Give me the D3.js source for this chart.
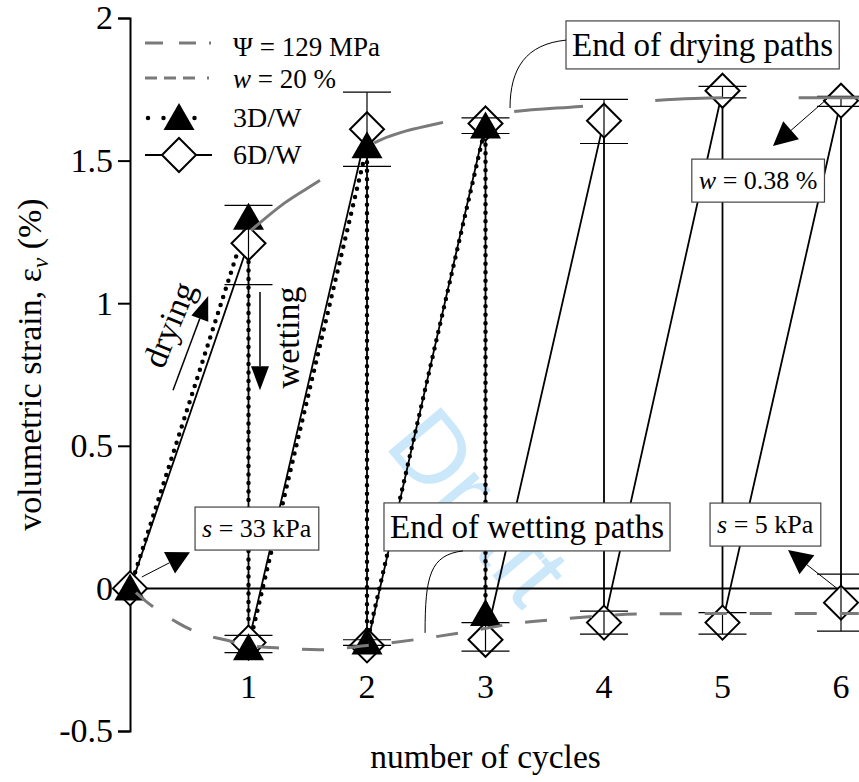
<!DOCTYPE html>
<html><head><meta charset="utf-8">
<script src="https://cdn.jsdelivr.net/npm/d3@7"></script>
<style>
html,body{margin:0;padding:0;background:#fff;}
svg{display:block;font-family:"Liberation Serif","Times New Roman",serif;}
</style></head><body>
<svg id="chart" width="859" height="782"></svg>
<script>
// ---------------- data ----------------
const yTickValues = [-0.5, 0, 0.5, 1, 1.5, 2];
const yTickLabels = ["-0.5", "0", "0.5", "1", "1.5", "2"];
const xTickValues = [1, 2, 3, 4, 5, 6];
const xTickLabels = ["1", "2", "3", "4", "5", "6"];

const cycles3DW = [0, 1, 1, 2, 2, 3, 3];
const strain3DW = [0, 1.30, -0.21, 1.55, -0.19, 1.62, -0.09];

const cycles6DW = [0, 1, 1, 2, 2, 3, 3, 4, 4, 5, 5, 6, 6];
const strain6DW = [0, 1.21, -0.19, 1.61, -0.20, 1.63, -0.18, 1.64, -0.12, 1.745, -0.12, 1.71, -0.05];

const errCycles = [1, 1, 2, 2, 3, 3, 4, 4, 5, 5, 6, 6];
const errLow  = [1.065, -0.225, 1.48, -0.20, 1.595, -0.22, 1.56, -0.16, 1.72, -0.16, 1.69, -0.15];
const errHigh = [1.343, -0.165, 1.74, -0.18, 1.65, -0.12, 1.715, -0.08, 1.76, -0.085, 1.725, 0.05];

// fitted trend curves (end of drying / end of wetting paths)
const dryEndCycles = [1.02, 1.3, 1.6, 2.05, 2.6, 3.2, 3.8, 4.4, 5.0, 5.6, 6.15];
const dryEndStrain = [1.255, 1.35, 1.43, 1.56, 1.63, 1.67, 1.69, 1.71, 1.72, 1.72, 1.72];
const wetEndCycles = [0.05, 0.12, 0.4, 0.6, 0.8, 1.0, 1.3, 1.6, 2.0, 2.4, 2.8, 3.2, 3.7, 4.3, 5.0, 6.15];
const wetEndStrain = [-0.015, -0.04, -0.12, -0.16, -0.18, -0.20, -0.21, -0.215, -0.20, -0.18, -0.155, -0.126, -0.105, -0.09, -0.088, -0.088];

const seriesNames = ["3D/W", "6D/W"];
const curveNames = ["Ψ = 129 MPa", "w = 20 %"];
const xAxisTitle = "number of cycles";

// ---------------- layout ----------------
const svg = d3.select("#chart");
const x = d3.scaleLinear().domain([0, 6]).range([130, 841]);
const y = d3.scaleLinear().domain([-0.5, 2]).range([731, 18]);
const serif = '"Liberation Serif","Times New Roman",serif';

// watermark
svg.append("text")
  .attr("transform", `translate(${x(2.95)},${y(0.29)}) rotate(50)`)
  .attr("text-anchor", "middle").attr("dominant-baseline", "central")
  .attr("font-family", '"Liberation Sans",Arial,sans-serif')
  .attr("font-size", 100).attr("fill", "#cbe8fb").text("Draft");

// zero line
svg.append("line")
  .attr("x1", x(0)).attr("x2", 859).attr("y1", y(0)).attr("y2", y(0))
  .attr("stroke", "#000").attr("stroke-width", 2);

// y axis
const yAxis = d3.axisLeft(y).tickValues(yTickValues)
  .tickFormat((d, i) => yTickLabels[i]).tickSize(12).tickPadding(5);
const gy = svg.append("g").attr("transform", `translate(${x(0)},0)`).call(yAxis)
  .attr("font-family", serif).attr("font-size", 34);
gy.select(".domain").attr("stroke", "#000").attr("stroke-width", 2);
gy.selectAll(".tick line").attr("stroke", "#000").attr("stroke-width", 2);
gy.selectAll(".tick text").attr("font-family", serif).attr("font-size", 34).attr("fill", "#000");

// x tick labels
svg.append("g").selectAll("text").data(xTickValues).join("text")
  .attr("x", d => x(d)).attr("y", 698).attr("text-anchor", "middle")
  .attr("font-size", 34).text((d, i) => xTickLabels[i]);

// axis titles
svg.append("text").attr("x", x(3)).attr("y", 768).attr("text-anchor", "middle")
  .attr("font-size", 33.5).text(xAxisTitle);
const yt = svg.append("text").attr("transform", `translate(41,${y(0.785)}) rotate(-90)`)
  .attr("text-anchor", "middle").attr("font-size", 34);
yt.append("tspan").text("volumetric strain, ε");
yt.append("tspan").attr("font-style", "italic").attr("font-size", 23).attr("dy", 7).text("v");
yt.append("tspan").attr("dy", -7).text(" (%)");

// data lines
const line = d3.line().x(d => x(d[0])).y(d => y(d[1]));
const pts6 = cycles6DW.map((c, i) => [c, strain6DW[i]]);
const pts3 = cycles3DW.map((c, i) => [c, strain3DW[i]]);
svg.append("path").attr("d", line(pts6)).attr("fill", "none")
  .attr("stroke", "#000").attr("stroke-width", 1.8);
svg.append("path").attr("d", line(pts3)).attr("fill", "none")
  .attr("stroke", "#000").attr("stroke-width", 4.5)
  .attr("stroke-dasharray", "0,8.5").attr("stroke-linecap", "round");

// markers
const diamondPath = "M0,-17L17,0L0,17L-17,0Z";
const trianglePath = "M0,-15L15.5,12L-15.5,12Z";
svg.append("g").selectAll("path").data(pts6).join("path")
  .attr("transform", d => `translate(${x(d[0])},${y(d[1])})`)
  .attr("d", diamondPath).attr("fill", "#fff").attr("stroke", "#000").attr("stroke-width", 2);
svg.append("g").selectAll("path").data(pts3).join("path")
  .attr("transform", d => `translate(${x(d[0])},${y(d[1])})`)
  .attr("d", trianglePath).attr("fill", "#000");

// error bars
const eg = svg.append("g").attr("stroke", "#000").attr("stroke-width", 1.2);
errCycles.forEach((c, i) => {
  eg.append("line").attr("x1", x(c)).attr("x2", x(c)).attr("y1", y(errLow[i])).attr("y2", y(errHigh[i]));
  [errLow[i], errHigh[i]].forEach(v => {
    eg.append("line").attr("x1", x(c) - 24).attr("x2", x(c) + 24).attr("y1", y(v)).attr("y2", y(v));
  });
});

// trend curves
const curve = d3.line().x(d => x(d[0])).y(d => y(d[1])).curve(d3.curveMonotoneX);
const dryPath = svg.append("path").attr("d", curve(dryEndCycles.map((c, i) => [c, dryEndStrain[i]])))
  .attr("fill", "none").attr("stroke", "#7a7a7a").attr("stroke-width", 3);
// long-dash pattern: dash/gap breaks expressed along the cycle axis
{
  const breaks = [1.02, 1.6, 2.06, 2.64, 3.24, 3.82, 4.43, 5.0, 5.64, 6.15].map(c => x(c));
  const node = dryPath.node(), total = node.getTotalLength();
  const lens = [];
  let bi = 1;
  for (let l = 0; l <= total && bi < breaks.length; l += 0.5) {
    if (node.getPointAtLength(l).x >= breaks[bi]) { lens.push(l); bi++; }
  }
  const arr = [];
  let prev = 0;
  lens.forEach(l => { arr.push(l - prev); prev = l; });
  arr.push(total);
  dryPath.attr("stroke-dasharray", arr.join(","));
}
svg.append("path").attr("d", curve(wetEndCycles.map((c, i) => [c, wetEndStrain[i]])))
  .attr("fill", "none").attr("stroke", "#7a7a7a").attr("stroke-width", 3)
  .attr("stroke-dasharray", "22,23");

// legend
const lg = svg.append("g");
const legY = [43, 78, 118, 155];
const legText = [56, 88, 127, 164];
lg.append("line").attr("x1", 145).attr("x2", 212).attr("y1", legY[0]).attr("y2", legY[0])
  .attr("stroke", "#7a7a7a").attr("stroke-width", 3).attr("stroke-dasharray", "18,16,17,13,2,100");
lg.append("line").attr("x1", 145).attr("x2", 212).attr("y1", legY[1]).attr("y2", legY[1])
  .attr("stroke", "#7a7a7a").attr("stroke-width", 3).attr("stroke-dasharray", "12,7,12,7,12,12,2,100");
lg.append("line").attr("x1", 148).attr("x2", 210).attr("y1", legY[2]).attr("y2", legY[2])
  .attr("stroke", "#000").attr("stroke-width", 4.5).attr("stroke-dasharray", "0,15.5").attr("stroke-linecap", "round");
lg.append("path").attr("d", trianglePath).attr("transform", `translate(179,${legY[2]})`).attr("fill", "#000");
lg.append("line").attr("x1", 145).attr("x2", 212).attr("y1", legY[3]).attr("y2", legY[3])
  .attr("stroke", "#000").attr("stroke-width", 1.8);
lg.append("path").attr("d", diamondPath).attr("transform", `translate(179,${legY[3]})`)
  .attr("fill", "#fff").attr("stroke", "#000").attr("stroke-width", 2);
lg.append("text").attr("x", 233).attr("y", legText[0]).attr("font-size", 27).text(curveNames[0]);
const t2 = lg.append("text").attr("x", 233).attr("y", legText[1]).attr("font-size", 27);
t2.append("tspan").attr("font-style", "italic").text(curveNames[1].slice(0, 1));
t2.append("tspan").text(curveNames[1].slice(1));
lg.append("text").attr("x", 233).attr("y", legText[2]).attr("font-size", 28).text(seriesNames[0]);
lg.append("text").attr("x", 233).attr("y", legText[3]).attr("font-size", 28).text(seriesNames[1]);

// annotation helpers
function boxLabel(cx, cy, parts, size, pad) {
  const g = svg.append("g");
  const t = g.append("text").attr("x", x(cx)).attr("y", y(cy)).attr("font-size", size);
  parts.forEach(p => t.append("tspan").attr("font-style", p[1] ? "italic" : "normal").text(p[0]));
  const b = t.node().getBBox();
  g.insert("rect", "text").attr("x", b.x - pad).attr("y", b.y - pad)
    .attr("width", b.width + 2 * pad).attr("height", b.height + 2 * pad)
    .attr("fill", "#fff").attr("stroke", "#444").attr("stroke-width", 1.2);
  return {x: b.x - pad, y: b.y - pad, w: b.width + 2 * pad, h: b.height + 2 * pad};
}
function arrow(c0, v0, c1, v1, L, hw, sw) {
  const x0 = x(c0), y0 = y(v0), x1 = x(c1), y1 = y(v1);
  const dx = x1 - x0, dy = y1 - y0, len = Math.hypot(dx, dy), ux = dx / len, uy = dy / len;
  const bx = x1 - ux * L, by = y1 - uy * L;
  svg.append("line").attr("x1", x0).attr("y1", y0).attr("x2", bx).attr("y2", by)
    .attr("stroke", "#000").attr("stroke-width", sw);
  svg.append("path").attr("d", `M${x1},${y1}L${bx - uy * hw},${by + ux * hw}L${bx + uy * hw},${by - ux * hw}Z`)
    .attr("fill", "#000");
}

// drying / wetting labels
svg.append("text").attr("transform", `translate(${x(0.33)},${y(0.925)}) rotate(-68)`)
  .attr("text-anchor", "middle").attr("dominant-baseline", "central").attr("font-size", 34).text("drying");
svg.append("text").attr("transform", `translate(${x(1.33)},${y(0.88)}) rotate(-90)`)
  .attr("text-anchor", "middle").attr("dominant-baseline", "central").attr("font-size", 34).text("wetting");
arrow(0.363, 0.695, 0.66, 1.025, 24, 9, 1.5);
arrow(1.097, 1.039, 1.097, 0.695, 24, 9, 1.5);

// callout boxes
const bDry = boxLabel(3.73, 1.867, [["End of drying paths", false]], 33, 6);
const bWet = boxLabel(2.194, 0.177, [["End of wetting paths", false]], 33, 6);
boxLabel(0.608, 0.18, [["s", true], [" = 33 kPa", false]], 26, 7);
boxLabel(4.954, 0.194, [["s", true], [" = 5 kPa", false]], 26, 7);
boxLabel(4.80, 1.40, [["w", true], [" = 0.38 %", false]], 26, 7);

// leader curves
{
  const sx = bDry.x, sy = bDry.y + bDry.h * 0.4, ex = x(3.207), ey = y(1.684);
  svg.append("path").attr("d", `M${sx},${sy}C${sx - 40},${sy + 4} ${ex},${ey - 40} ${ex},${ey}`)
    .attr("fill", "none").attr("stroke", "#000").attr("stroke-width", 1);
  const wx = x(2.81), wy = bWet.y + bWet.h, fx = x(2.49), fy = y(-0.156);
  svg.append("path").attr("d", `M${wx},${wy}C${fx + 5},${wy + 4} ${fx},${wy + 25} ${fx},${fy}`)
    .attr("fill", "none").attr("stroke", "#000").attr("stroke-width", 1);
}

// pointer arrows
arrow(0.10, 0.04, 0.506, 0.127, 23, 12, 1);
arrow(5.966, 0.0, 5.553, 0.135, 24, 12, 1);
arrow(5.882, 1.716, 5.426, 1.551, 24, 12, 1);
</script>
</body></html>
